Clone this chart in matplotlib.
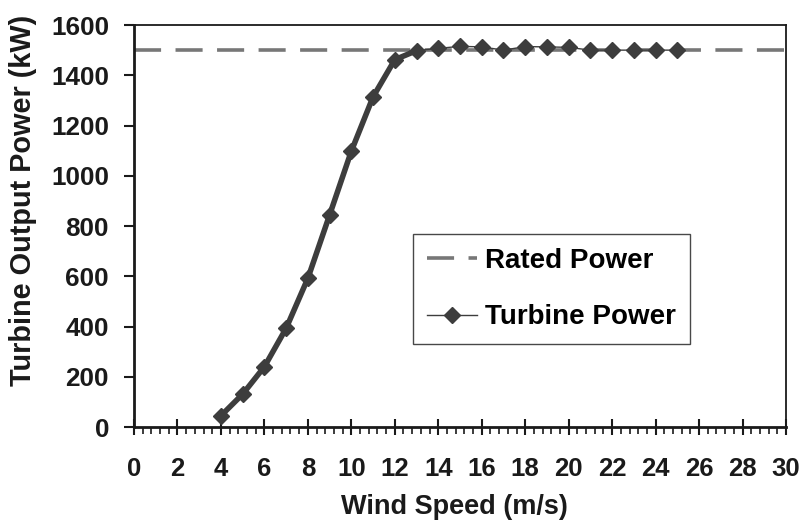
import matplotlib
matplotlib.use("Agg")
import matplotlib.pyplot as plt
from matplotlib.ticker import MultipleLocator

# datos
wind_speed = [4, 5, 6, 7, 8, 9, 10, 11, 12, 13, 14, 15, 16, 17, 18, 19, 20, 21, 22, 23, 24, 25]
turbine_power = [45, 131, 240, 393, 592, 844, 1098, 1314, 1462, 1498, 1507, 1515, 1513, 1500,
                 1514, 1513, 1511, 1500, 1500, 1500, 1500, 1500]
rated_power = 1500
x_range = [0, 30]
n_steep = 10  # puntos de la rampa (4 a 13 m/s)

plt.rcParams['font.family'] = ['Liberation Sans', 'DejaVu Sans']
plt.rcParams['font.weight'] = 'bold'

fig = plt.figure(figsize=(8.03, 5.21), dpi=100)
ax = fig.add_axes([0.1669, 0.1804, 0.8119, 0.7716])

# linea de potencia nominal
ax.plot(x_range, [rated_power, rated_power], color='#777777', lw=2.6,
        dashes=(7.5, 4), label='Rated Power', zorder=2)
# curva gruesa de fondo (rampa)
ax.plot(wind_speed[:n_steep], turbine_power[:n_steep], color='#3d3d3d', lw=4.0,
        zorder=3, solid_capstyle='round')
# curva con marcadores
ax.plot(wind_speed, turbine_power, color='#3d3d3d', lw=1.0, marker='D',
        markersize=8.5, label='Turbine Power', zorder=4)

ax.set_xlim(0, 30)
ax.set_ylim(0, 1600)
ax.xaxis.set_major_locator(MultipleLocator(2))
ax.xaxis.set_minor_locator(MultipleLocator(0.4))
ax.yaxis.set_major_locator(MultipleLocator(200))

ax.tick_params(axis='x', which='major', direction='inout', length=12, width=1.5,
               labelsize=18.5, pad=15.5, colors='#1a1a1a')
ax.tick_params(axis='x', which='minor', direction='out', length=5, width=1.2,
               colors='#1a1a1a')
ax.tick_params(axis='y', which='major', direction='out', length=7, width=1.5,
               labelsize=18.8, pad=11, colors='#1a1a1a')

for s in ['left', 'bottom']:
    ax.spines[s].set_linewidth(2)
    ax.spines[s].set_color('#1a1a1a')
for s in ['top', 'right']:
    ax.spines[s].set_linewidth(1.3)
    ax.spines[s].set_color('#1a1a1a')

ax.set_xlabel('Wind Speed (m/s)', fontsize=19.5, fontweight='bold', color='#1a1a1a')
ax.set_ylabel('Turbine Output Power (kW)', fontsize=20.8, fontweight='bold', color='#1a1a1a')
ax.xaxis.set_label_coords(0.492, -0.166)
ax.yaxis.set_label_coords(-0.149, 0.565)

leg = ax.legend(loc='upper left', bbox_to_anchor=(0.428, 0.480), fontsize=20,
                frameon=True, fancybox=False, edgecolor='#1a1a1a', handlelength=1.8,
                borderpad=0.5, labelspacing=1.1, handletextpad=0.3, borderaxespad=0)
leg.get_frame().set_linewidth(1.0)

plt.savefig('out.png', dpi=100)
